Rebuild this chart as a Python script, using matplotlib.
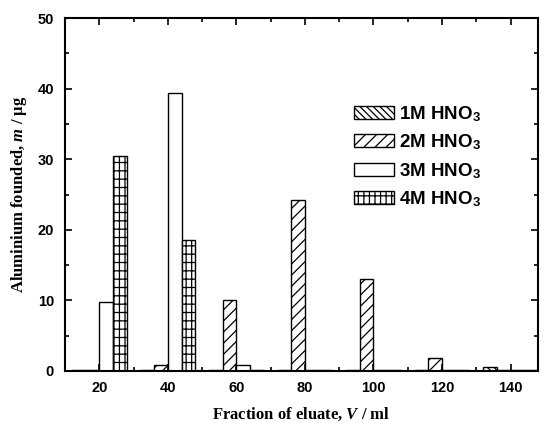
import numpy as np
import matplotlib
matplotlib.use('Agg')
import matplotlib.pyplot as plt
from matplotlib.ticker import MultipleLocator

plt.rcParams['mathtext.fontset'] = 'custom'
plt.rcParams['mathtext.it'] = 'Liberation Serif:italic:bold'
plt.rcParams['mathtext.rm'] = 'Liberation Serif:bold'
plt.rcParams['hatch.linewidth'] = 0.9

# fractions of eluate (ml)
fractions = [20, 40, 60, 80, 100, 120, 140]
# Al found (ug) per HNO3 concentration
al_1m = [0.2, 0.2, 0.2, 0.2, 0.1, 0.2, 0.6]
al_2m = [0.2, 0.85, 10.0, 24.3, 13.0, 1.9, 0.2]
al_3m = [9.8, 39.4, 0.9, 0.2, 0.1, 0.1, 0.1]
al_4m = [30.5, 18.6, 0.2, 0.1, 0.1, 0.1, 0.1]
labels = ['1M HNO$_\\mathregular{3}$', '2M HNO$_\\mathregular{3}$',
          '3M HNO$_\\mathregular{3}$', '4M HNO$_\\mathregular{3}$']
hatches = ['\\\\\\\\\\', '///', '', '|||--']

fig = plt.figure(figsize=(5.44, 4.23), dpi=100)
ax = fig.add_axes([0.1195, 0.123, 0.8695, 0.834])

x = np.array(fractions)
w = 4
series = [al_1m, al_2m, al_3m, al_4m]
offsets = [-8, -4, 0, 4]
for vals, off, h, lab in zip(series, offsets, hatches, labels):
    ax.bar(x + off, vals, width=w, align='edge', facecolor='white',
           edgecolor='black', hatch=h, linewidth=1.0, label=lab)

ax.set_xlim(10, 148)
ax.set_ylim(0, 50)
ax.xaxis.set_major_locator(MultipleLocator(20))
ax.xaxis.set_minor_locator(MultipleLocator(10))
ax.yaxis.set_major_locator(MultipleLocator(10))
ax.yaxis.set_minor_locator(MultipleLocator(5))
ax.tick_params(which='both', direction='in', top=True, right=True, width=1.2)
ax.tick_params(which='major', length=5)
ax.tick_params(which='minor', length=3)
ax.tick_params(axis='x', pad=7)
ax.tick_params(axis='y', pad=8)
for t in ax.get_xticklabels() + ax.get_yticklabels():
    t.set_fontfamily('Liberation Sans')
    t.set_fontweight('bold')
    t.set_fontsize(10.5)
for s in ax.spines.values():
    s.set_linewidth(1.5)

ax.set_xlabel('Fraction of eluate, $\\mathit{V}$ / ml', family='Liberation Serif',
              fontweight='bold', fontsize=12, labelpad=8)
ax.set_ylabel('Aluminium founded, $\\mathit{m}$ / μg', family='Liberation Serif',
              fontweight='bold', fontsize=12, labelpad=6)

leg = ax.legend(loc='upper left', bbox_to_anchor=(0.612, 0.757), frameon=False,
                borderpad=0, borderaxespad=0, handlelength=2.1, handleheight=0.67,
                handletextpad=0.3, labelspacing=0.47,
                prop={'family': 'Liberation Sans', 'size': 13.5, 'weight': 'bold'})

fig.savefig('out.png', dpi=100)
